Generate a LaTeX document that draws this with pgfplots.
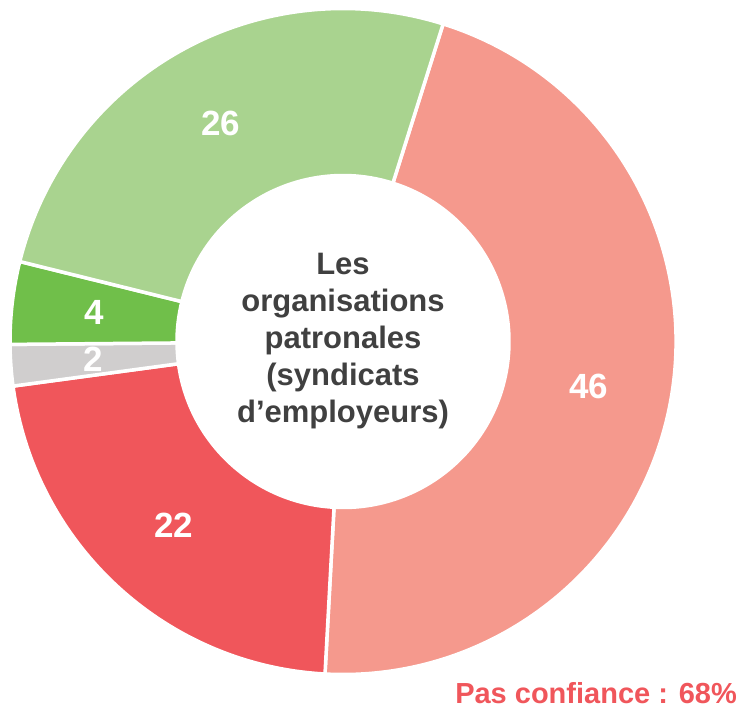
\documentclass[border=0pt]{standalone}
\usepackage{fontspec}
\setmainfont{Liberation Sans}
\usepackage{pgfplots}
\pgfplotsset{compat=1.18}
\usepackage{pgfplotstable}
\usetikzlibrary{calc}
\definecolor{c46}{HTML}{F5998D}
\definecolor{c22}{HTML}{F0565B}
\definecolor{cgrey}{HTML}{D0CECE}
\definecolor{cgreen}{HTML}{70BF4A}
\definecolor{clgreen}{HTML}{A9D38F}
\definecolor{ctext}{HTML}{404040}
\pgfplotstableread{
value color
46 c46
22 c22
2 cgrey
4 cgreen
26 clgreen
}\donutdata
\tikzset{lbl/.style={font=\bfseries\fontsize{35}{42}\selectfont, text=white, inner sep=0pt}}
\begin{document}
\begin{tikzpicture}
\begin{axis}[width=744pt,height=710pt,scale only axis,xmin=0,xmax=744,ymin=0,ymax=710,hide axis,clip=false]
\pgfmathsetmacro{\startang}{72.5}
\pgfplotsforeachungrouped \i in {0,...,4}{%
 \pgfplotstablegetelem{\i}{value}\of\donutdata \let\val\pgfplotsretval
 \pgfplotstablegetelem{\i}{color}\of\donutdata \let\col\pgfplotsretval
 \pgfmathsetmacro{\endang}{\startang-3.6*\val}%
 \edef\seg{\noexpand\fill[\col,draw=white,line width=3.5pt] ($(axis cs:343,368.5)+(\startang:333pt)$) arc[start angle=\startang,end angle=\endang,radius=333pt] -- ($(axis cs:343,368.5)+(\endang:166pt)$) arc[start angle=\endang,end angle=\startang,radius=166pt] -- cycle;}%
 \seg
 \let\startang\endang
}
\pgfmathsetmacro{\startang}{72.5}
\pgfplotsforeachungrouped \i in {0,...,4}{%
 \pgfplotstablegetelem{\i}{value}\of\donutdata \let\val\pgfplotsretval
 \pgfmathsetmacro{\endang}{\startang-3.6*\val}%
 \pgfmathsetmacro{\midang}{(\startang+\endang)/2}%
 \edef\lab{\noexpand\node[lbl] at ($(axis cs:343,368.5)+(\midang:250pt)$) {\val};}%
 \lab
 \let\startang\endang
}
\node[align=center, font=\bfseries\fontsize{31}{37}\selectfont, text=ctext] at (axis cs:343,369) {Les\\organisations\\patronales\\(syndicats\\d’employeurs)};
\node[anchor=base east, inner sep=0pt, font=\bfseries\fontsize{29}{35}\selectfont, text=c22] at (axis cs:737,7) {Pas confiance : 68\%};
\end{axis}
\pgfresetboundingbox
\path (current axis.south west) rectangle (current axis.north east);
\end{tikzpicture}
\end{document}
